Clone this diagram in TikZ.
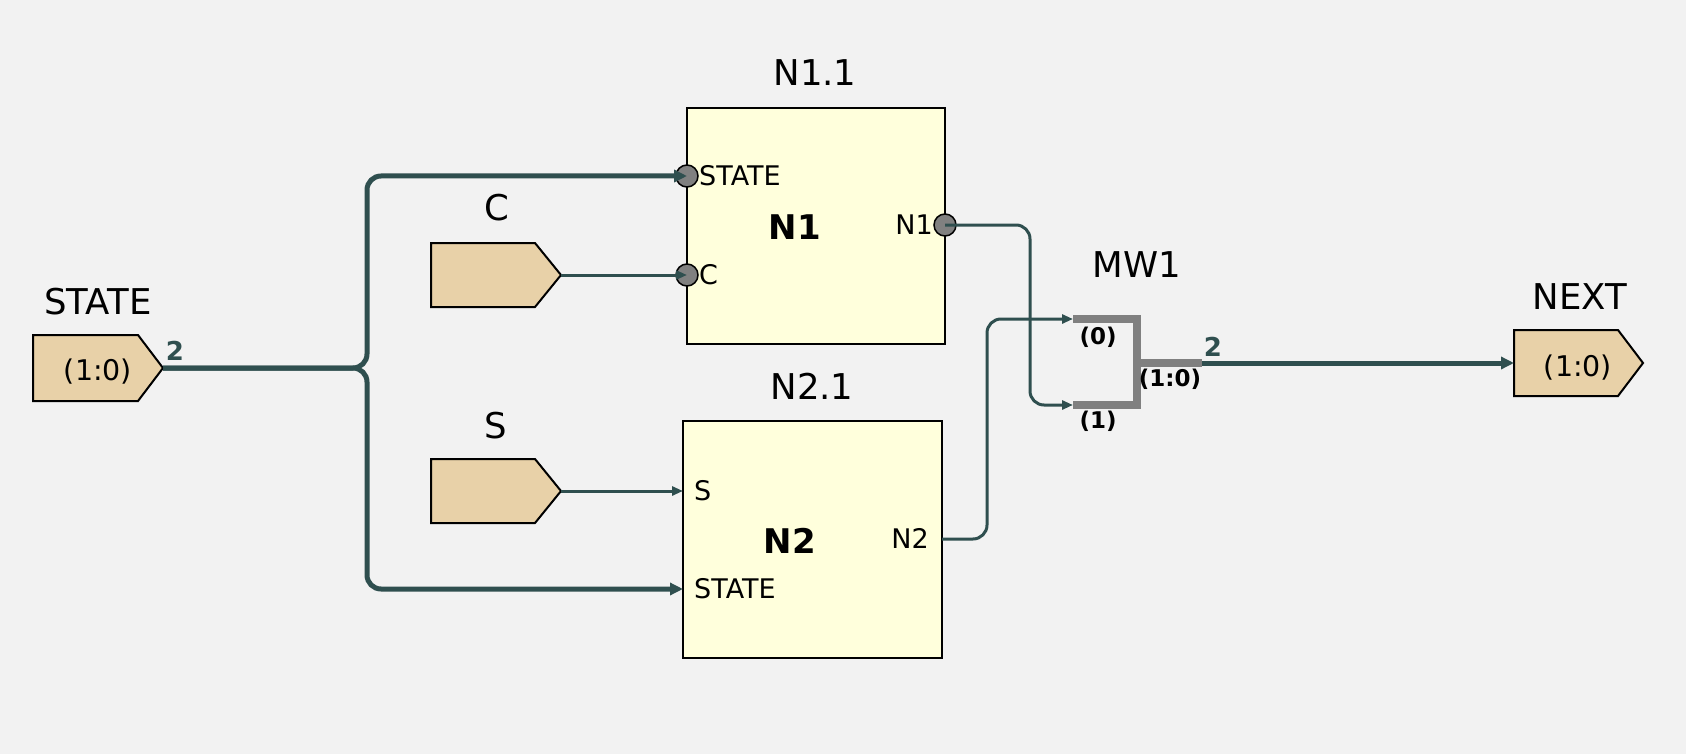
\documentclass[tikz,border=0pt]{standalone}
\usepackage{fontspec}
\setmainfont{DejaVu Sans}
\usetikzlibrary{arrows.meta}
\definecolor{bg}{HTML}{F2F2F2}
\definecolor{wire}{HTML}{2F4F4F}
\definecolor{portfill}{HTML}{E8D1A8}
\definecolor{boxfill}{HTML}{FFFFDC}
\definecolor{pingray}{HTML}{808080}
\begin{document}
\begin{tikzpicture}[x=1pt,y=-1pt,
  lbl/.style={inner sep=0pt, font=\fontsize{35.5}{38}\selectfont, text height=25.9pt, text depth=0pt},
  val/.style={inner sep=0pt, font=\fontsize{28.5}{31}\selectfont, text height=20.8pt, text depth=0pt},
  plbl/.style={inner sep=0pt, font=\fontsize{27}{30}\selectfont, text height=19.7pt, text depth=0pt},
  blbl/.style={inner sep=0pt, font=\fontsize{34}{38}\selectfont\bfseries, text height=24.8pt, text depth=0pt},
  mlbl/.style={inner sep=0pt, font=\fontsize{23}{26}\selectfont\bfseries, text height=16.8pt, text depth=0pt},
  wlbl/.style={inner sep=0pt, font=\fontsize{26}{28}\selectfont\bfseries, text=wire, text height=19pt, text depth=0pt},
  inport/.style={draw=black, fill=portfill, line width=2pt, line join=miter},
  block/.style={draw=black, fill=boxfill, line width=2pt, inner sep=0pt},
  bus/.style={draw=wire, line width=5pt, rounded corners=14pt},
  sig/.style={draw=wire, line width=3pt, rounded corners=14pt},
  pinc/.style={circle, draw=black, fill=pingray, minimum size=22pt, inner sep=0pt, line width=1.5pt},
  tipbus/.style={-{Triangle[length=13pt,width=12pt]}},
  tipsig/.style={-{Triangle[length=11pt,width=9pt]}},
  mw/.style={draw=pingray, line width=8pt, line join=miter}
]
\fill[bg] (0,0) rectangle (1686,754);
\useasboundingbox (0,0) rectangle (1686,754);

% ---- input / output ports ----
\draw[inport] (33,335) -- (138,335) -- (163,368) -- (138,401) -- (33,401) -- cycle;
\coordinate (stateT) at (163,368);
\node[val] (stateval) at (98,370) {(1:0)};
\node[lbl] (statettl) at (98,302) {STATE};
\node[wlbl] (w2a) at (175,351) {2};

\draw[inport] (431,243) -- (535,243) -- (561,275) -- (535,307) -- (431,307) -- cycle;
\coordinate (cT) at (561,275);
\node[lbl] (cttl) at (497,208) {C};

\draw[inport] (431,459) -- (535,459) -- (561,491) -- (535,523) -- (431,523) -- cycle;
\coordinate (sT) at (561,491);
\node[lbl] (sttl) at (496,426) {S};

\draw[inport] (1514,330) -- (1618,330) -- (1643,363) -- (1618,396) -- (1514,396) -- cycle;
\coordinate (nextL) at (1514,363);
\node[val] (nextval) at (1578,366) {(1:0)};
\node[lbl] (nextttl) at (1580,297) {NEXT};

% ---- blocks ----
\node[block, minimum width=258pt, minimum height=236pt] (n1) at (816,226) {};
\node[lbl] (n1ttl) at (815,73) {N1.1};
\node[blbl] (n1name) at (795,227) {N1};
\node[pinc] (n1s) at (687,176) {};
\node[pinc] (n1c) at (687,275) {};
\node[pinc] (n1o) at (945,225) {};
\node[plbl, anchor=west] (n1sl) at (699,176) {STATE};
\node[plbl, anchor=west] (n1cl) at (699,275) {C};
\node[plbl, anchor=east] (n1ol) at (933,225) {N1};

\node[block, minimum width=259pt, minimum height=237pt] (n2) at (812.5,539.5) {};
\node[lbl] (n2ttl) at (812,387) {N2.1};
\node[blbl] (n2name) at (790,541) {N2};
\coordinate (n2s) at (683,491);
\coordinate (n2st) at (683,589);
\coordinate (n2o) at (942,539);
\node[plbl, anchor=west] (n2sl) at (694,491) {S};
\node[plbl, anchor=west] (n2stl) at (694,589) {STATE};
\node[plbl, anchor=east] (n2ol) at (929,539) {N2};

% ---- MW1 ----
\coordinate (mw0) at (1073,319);
\coordinate (mw1) at (1073,405);
\coordinate (mwo) at (1202,363);
\draw[mw] (mw0) -- (1137,319) -- (1137,405) -- (mw1);
\draw[mw] (1137,363) -- (mwo);
\node[lbl] (mwttl) at (1137,265) {MW1};
\node[mlbl] (mwl0) at (1098,336) {(0)};
\node[mlbl] (mwl1) at (1098,420) {(1)};
\node[mlbl] (mwlo) at (1170,378) {(1:0)};
\node[wlbl] (w2b) at (1213,347) {2};

% ---- wires ----
\draw[bus, tipbus] (stateT) -- (367,368) -- (367,176) -- (n1s.center);
\draw[bus, tipbus] (stateT) -- (367,368) -- (367,589) -- (n2st);
\draw[sig, tipsig] (cT) -- (n1c.center);
\draw[sig, tipsig] (sT) -- (n2s);
\draw[sig, tipsig] (n1o.center) -- (1030,225) -- (1030,405) -- (mw1);
\draw[sig, tipsig] (n2o) -- (987,539) -- (987,319) -- (mw0);
\draw[bus, tipbus] (mwo) -- (nextL);
\end{tikzpicture}
\end{document}
